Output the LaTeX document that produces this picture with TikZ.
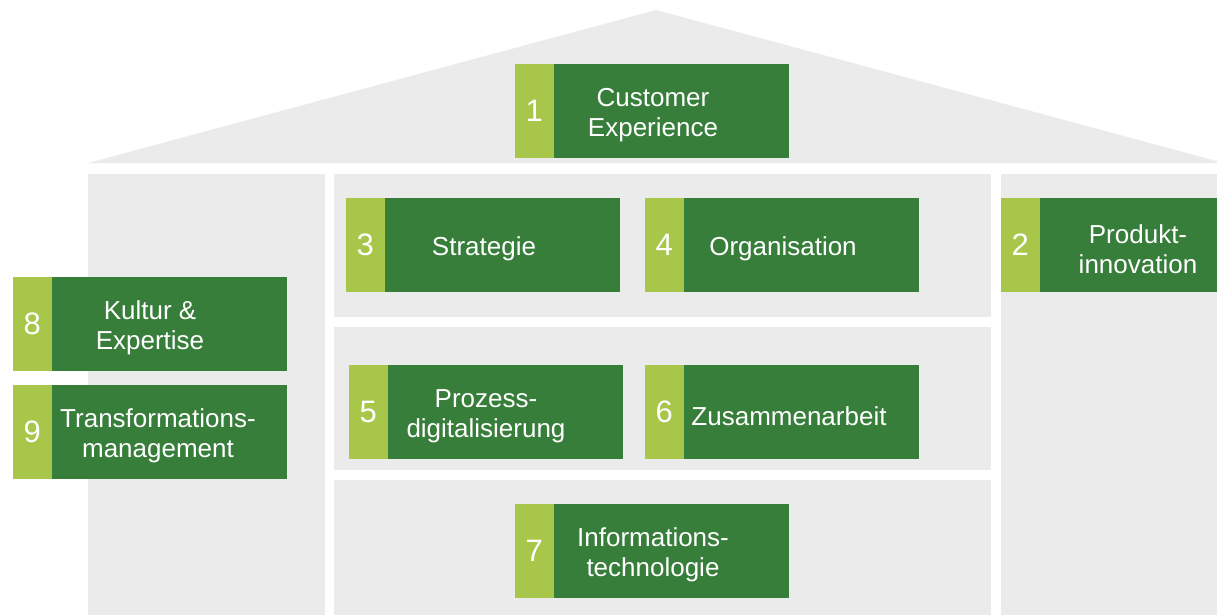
\documentclass[tikz,border=0pt]{standalone}
\usepackage{fontspec}
\setmainfont{Liberation Sans}
\usetikzlibrary{calc}
\definecolor{dkgreen}{RGB}{55,126,58}
\definecolor{ltgreen}{RGB}{168,198,74}
\definecolor{panel}{RGB}{235,235,235}
\tikzset{
  panelbox/.style={fill=panel, draw=none},
  greenbox/.style={rectangle, fill=dkgreen, draw=none, inner sep=0pt, outer sep=0pt,
    minimum width=274pt, minimum height=94pt, anchor=north west},
  stripebox/.style={rectangle, fill=ltgreen, draw=none, inner sep=0pt, outer sep=0pt,
    minimum width=38.5pt, minimum height=94pt, anchor=north west, text=white,
    font=\fontsize{31}{31}\selectfont},
  lbl/.style={inner sep=0pt, outer sep=0pt, text=white, align=center,
    font=\fontsize{26}{30}\selectfont}
}
\newcommand{\dg}[1]{\raisebox{-2pt}{#1}}
\begin{document}
\begin{tikzpicture}[x=1pt,y=-1pt]
\useasboundingbox (0,0) rectangle (1217,615);
\clip (0,0) rectangle (1217,615);
% house
\fill[panel] (88,163) -- (656,10) -- (1224,163) -- cycle;
\fill[panel] (88,174) rectangle (325,615);
\fill[panel] (334,174) rectangle (991,317);
\fill[panel] (334,327) rectangle (991,470);
\fill[panel] (334,480) rectangle (991,615);
\fill[panel] (1001,174) rectangle (1217,615);
% boxes
\node[greenbox] (b1) at (515,64) {};
\node[stripebox] (n1) at (b1.north west) {\dg{1}};
\node[lbl] (t1) at ($(b1.west)+(138,4)$) {Customer\\Experience};

\node[greenbox] (b3) at (346,198) {};
\node[stripebox] (n3) at (b3.north west) {\dg{3}};
\node[lbl] (t3) at ($(b3.west)+(138,4)$) {Strategie};

\node[greenbox] (b4) at (645,198) {};
\node[stripebox] (n4) at (b4.north west) {\dg{4}};
\node[lbl] (t4) at ($(b4.west)+(138,4)$) {Organisation};

\node[greenbox] (b2) at (1001,198) {};
\node[stripebox] (n2) at (b2.north west) {\dg{2}};
\node[lbl] (t2) at ($(b2.west)+(137,4)$) {Produkt-\\innovation};

\node[greenbox] (b8) at (13,277) {};
\node[stripebox] (n8) at (b8.north west) {\dg{8}};
\node[lbl] (t8) at ($(b8.west)+(137,4)$) {Kultur \&\\Expertise};

\node[greenbox] (b9) at (13,385) {};
\node[stripebox] (n9) at (b9.north west) {\dg{9}};
\node[lbl] (t9) at ($(b9.west)+(145,4)$) {Transformations-\\management};

\node[greenbox] (b5) at (349,365) {};
\node[stripebox] (n5) at (b5.north west) {\dg{5}};
\node[lbl] (t5) at ($(b5.west)+(137,4)$) {Prozess-\\digitalisierung};

\node[greenbox] (b6) at (645,365) {};
\node[stripebox] (n6) at (b6.north west) {\dg{6}};
\node[lbl] (t6) at ($(b6.west)+(144,4)$) {Zusammenarbeit};

\node[greenbox] (b7) at (515,504) {};
\node[stripebox] (n7) at (b7.north west) {\dg{7}};
\node[lbl] (t7) at ($(b7.west)+(138,4)$) {Informations-\\technologie};
\end{tikzpicture}
\end{document}
